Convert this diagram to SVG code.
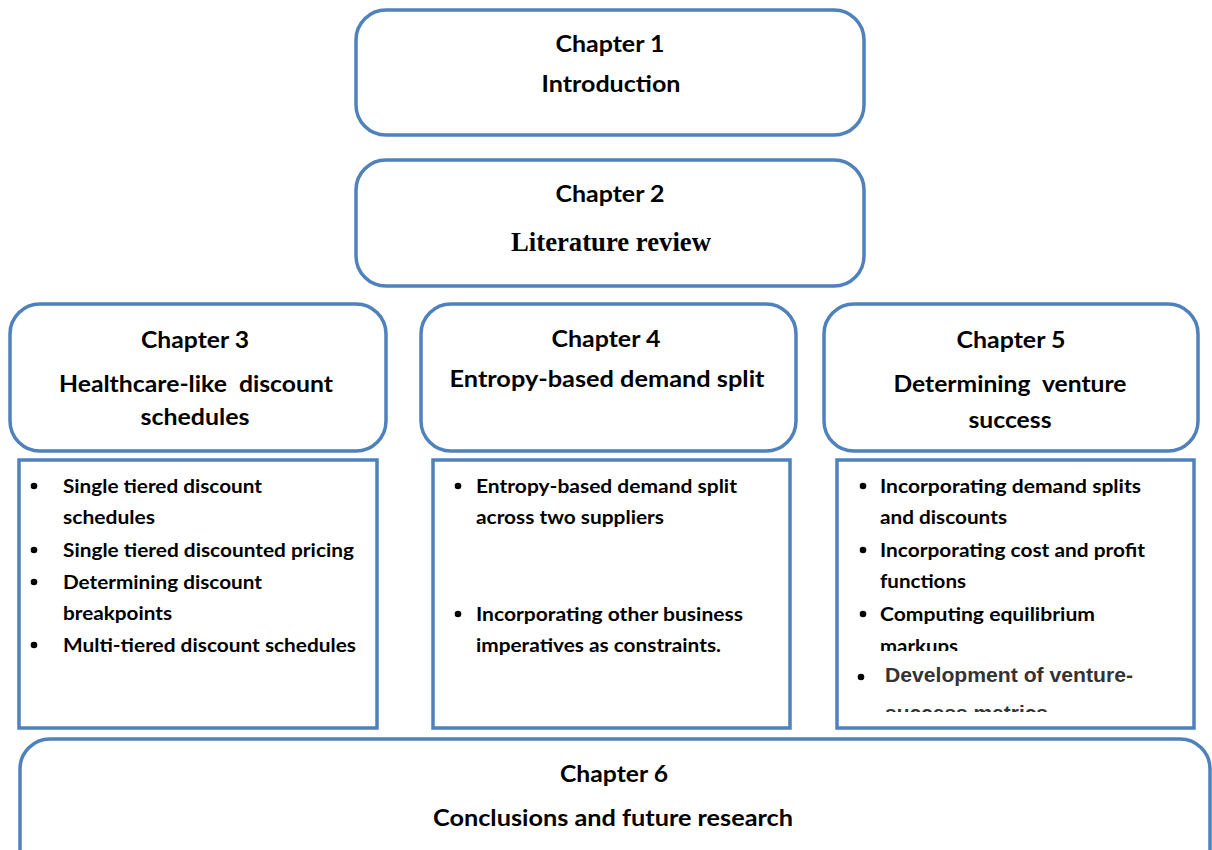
<svg xmlns="http://www.w3.org/2000/svg" width="1212" height="850" viewBox="0 0 1212 850">
<style>
.box{fill:#ffffff;stroke:#4f81bd;stroke-width:3.5}
.t{font-family:Lato,"Open Sans","Liberation Sans",sans-serif;font-weight:700;fill:#000}
.h{font-size:23px;text-anchor:middle}
.li{font-size:18px}
.b{fill:#000}
.ar{font-family:"Liberation Sans",Arial,sans-serif;font-weight:700;font-size:20px;fill:#333}
.tm{font-family:"Liberation Serif","Times New Roman",serif;font-weight:700;font-size:27px;fill:#000;text-anchor:middle}
.pre{white-space:pre}
</style>
<defs>
<clipPath id="c5a"><rect x="830" y="455" width="380" height="196"/></clipPath>
<clipPath id="c5b"><rect x="830" y="655" width="380" height="57"/></clipPath>
</defs>
<rect width="1212" height="850" fill="#ffffff"/>
<g id="connectors"></g>

<g id="ch1">
<rect class="box" x="356" y="10" width="508" height="125" rx="30"/>
<text class="t h" x="610" y="52" textLength="109" lengthAdjust="spacingAndGlyphs">Chapter 1</text>
<text class="t h" x="611" y="92" textLength="139" lengthAdjust="spacingAndGlyphs">Introduction</text>
</g>

<g id="ch2">
<rect class="box" x="356" y="160" width="508" height="126" rx="30"/>
<text class="t h" x="610" y="202" textLength="109" lengthAdjust="spacingAndGlyphs">Chapter 2</text>
<text class="tm" x="611" y="251" textLength="200" lengthAdjust="spacingAndGlyphs">Literature review</text>
</g>

<g id="ch3">
<rect class="box" x="10" y="304" width="376" height="147" rx="30"/>
<text class="t h" x="195" y="348" textLength="108" lengthAdjust="spacingAndGlyphs">Chapter 3</text>
<text class="t h pre" xml:space="preserve" x="196" y="392" textLength="274" lengthAdjust="spacingAndGlyphs">Healthcare-like  discount</text>
<text class="t h" x="195" y="425" textLength="109" lengthAdjust="spacingAndGlyphs">schedules</text>
</g>

<g id="ch3-list">
<rect class="box" x="19" y="460" width="358" height="268"/>
<circle class="b" cx="34" cy="486" r="3.3"/>
<circle class="b" cx="34" cy="550" r="3.3"/>
<circle class="b" cx="34" cy="582" r="3.3"/>
<circle class="b" cx="34" cy="645" r="3.3"/>
<text class="t li" x="63" y="493" textLength="199" lengthAdjust="spacingAndGlyphs">Single tiered discount</text>
<text class="t li" x="63" y="524" textLength="92" lengthAdjust="spacingAndGlyphs">schedules</text>
<text class="t li" x="63" y="557" textLength="291" lengthAdjust="spacingAndGlyphs">Single tiered discounted pricing</text>
<text class="t li" x="63" y="589" textLength="199" lengthAdjust="spacingAndGlyphs">Determining discount</text>
<text class="t li" x="63" y="620" textLength="109" lengthAdjust="spacingAndGlyphs">breakpoints</text>
<text class="t li" x="63" y="652" textLength="293" lengthAdjust="spacingAndGlyphs">Multi-tiered discount schedules</text>
</g>

<g id="ch4">
<rect class="box" x="421" y="304" width="375" height="147" rx="30"/>
<text class="t h" x="606" y="347" textLength="109" lengthAdjust="spacingAndGlyphs">Chapter 4</text>
<text class="t h" x="607" y="387" textLength="315" lengthAdjust="spacingAndGlyphs">Entropy-based demand split</text>
</g>

<g id="ch4-list">
<rect class="box" x="433" y="460" width="357" height="268"/>
<circle class="b" cx="458" cy="486" r="3.3"/>
<circle class="b" cx="458" cy="614" r="3.3"/>
<text class="t li" x="476" y="493" textLength="261" lengthAdjust="spacingAndGlyphs">Entropy-based demand split</text>
<text class="t li" x="476" y="524" textLength="188" lengthAdjust="spacingAndGlyphs">across two suppliers</text>
<text class="t li" x="476" y="621" textLength="267" lengthAdjust="spacingAndGlyphs">Incorporating other business</text>
<text class="t li" x="476" y="652" textLength="245" lengthAdjust="spacingAndGlyphs">imperatives as constraints.</text>
</g>

<g id="ch5">
<rect class="box" x="824" y="304" width="374" height="147" rx="30"/>
<text class="t h" x="1011" y="348" textLength="109" lengthAdjust="spacingAndGlyphs">Chapter 5</text>
<text class="t h pre" xml:space="preserve" x="1010" y="392" textLength="233" lengthAdjust="spacingAndGlyphs">Determining  venture</text>
<text class="t h" x="1010" y="428" textLength="83" lengthAdjust="spacingAndGlyphs">success</text>
</g>

<g id="ch5-list">
<rect class="box" x="837" y="460" width="357" height="268"/>
<circle class="b" cx="863" cy="486" r="3.3"/>
<circle class="b" cx="863" cy="550" r="3.3"/>
<circle class="b" cx="863" cy="614" r="3.3"/>
<circle class="b" cx="861" cy="677" r="3.3"/>
<text class="t li" x="880" y="493" textLength="261" lengthAdjust="spacingAndGlyphs">Incorporating demand splits</text>
<text class="t li" x="880" y="524" textLength="127" lengthAdjust="spacingAndGlyphs">and discounts</text>
<text class="t li" x="880" y="557" textLength="265" lengthAdjust="spacingAndGlyphs">Incorporating cost and profit</text>
<text class="t li" x="880" y="588" textLength="86" lengthAdjust="spacingAndGlyphs">functions</text>
<text class="t li" x="880" y="621" textLength="215" lengthAdjust="spacingAndGlyphs">Computing equilibrium</text>
<text class="t li" x="880" y="653" textLength="78" lengthAdjust="spacingAndGlyphs" clip-path="url(#c5a)">markups</text>
<text class="ar" x="885" y="682" textLength="248" lengthAdjust="spacingAndGlyphs">Development of venture-</text>
<text class="ar" x="885" y="720" textLength="163" lengthAdjust="spacingAndGlyphs" clip-path="url(#c5b)">success metrics</text>
</g>

<g id="ch6">
<rect class="box" x="20" y="739" width="1190" height="150" rx="30"/>
<text class="t h" x="614" y="782" textLength="108" lengthAdjust="spacingAndGlyphs">Chapter 6</text>
<text class="t h" x="613" y="826" textLength="360" lengthAdjust="spacingAndGlyphs">Conclusions and future research</text>
</g>
</svg>
